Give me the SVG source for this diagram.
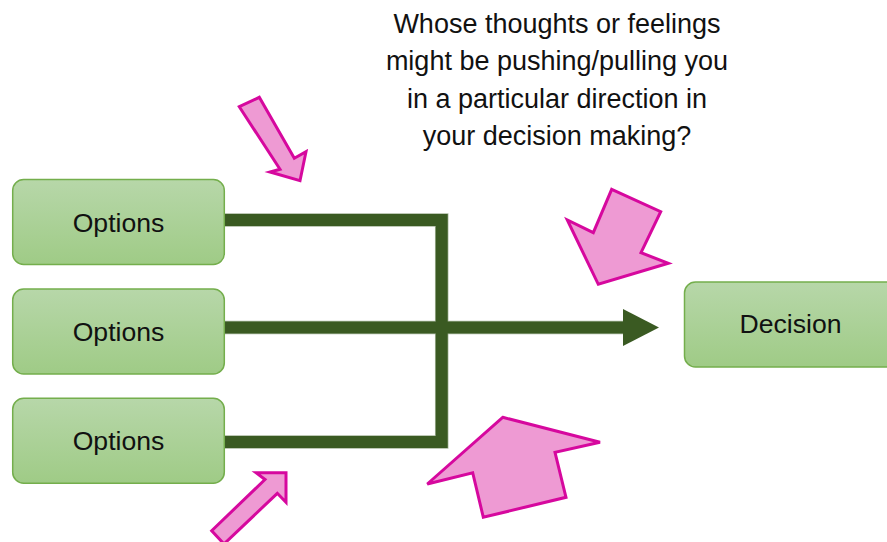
<svg xmlns="http://www.w3.org/2000/svg" width="887" height="542" viewBox="0 0 887 542">
<style>
.box{fill:url(#g);stroke:#74AE4C;stroke-width:1.5}
.lbl{font-family:"Liberation Sans",Arial,sans-serif;font-size:26.6px;fill:#111;text-anchor:middle}
.hdr{font-family:"Liberation Sans",Arial,sans-serif;font-size:27px;fill:#111;text-anchor:middle}
.ln{fill:none;stroke:#3A5A22;stroke-width:12;stroke-linejoin:miter;stroke-linecap:butt}
.lo{fill:none;stroke:#A9B89E;stroke-width:13.5;stroke-linejoin:miter;stroke-linecap:butt}
.pk{fill:#EE9AD3;stroke:#D6089E;stroke-width:3;stroke-linejoin:miter}
</style>
<defs>
<linearGradient id="g" x1="0" y1="0" x2="0" y2="1">
<stop offset="0" stop-color="#B7D7A9"/>
<stop offset="1" stop-color="#9FCB86"/>
</linearGradient>
</defs>
<rect width="887" height="542" fill="#fff"/>
<g id="connectors">
<path class="lo" d="M224,220 H441.7 V442 H224"/>
<path class="lo" d="M224,327.5 H624"/>
<path class="ln" d="M224,220 H441.7 V442 H224"/>
<path class="ln" d="M224,327.5 H624"/>
<polygon points="623,309 659,327.5 623,346" fill="#3A5A22"/>
</g>
<g id="opt1"><rect class="box" x="12.7" y="179.5" width="211.6" height="85" rx="11"/><text class="lbl" x="118.5" y="231.5">Options</text></g>
<g id="opt2"><rect class="box" x="12.7" y="289" width="211.6" height="85" rx="11"/><text class="lbl" x="118.5" y="340.5">Options</text></g>
<g id="opt3"><rect class="box" x="12.7" y="398.3" width="211.6" height="85" rx="11"/><text class="lbl" x="118.5" y="449.8">Options</text></g>
<g id="decision"><rect class="box" x="684.5" y="282" width="213" height="85" rx="11"/><text class="lbl" x="790.5" y="333.3">Decision</text></g>
<g id="question">
<text class="hdr" x="557" y="33">Whose thoughts or feelings</text>
<text class="hdr" x="557" y="70">might be pushing/pulling you</text>
<text class="hdr" x="557" y="107.5">in a particular direction in</text>
<text class="hdr" x="557" y="145">your decision making?</text>
</g>
<g id="arrow1"><polygon class="pk" points="239.3,106.7 280,169.3 270,172 300,180.7 306,151.7 294.3,158.3 259.3,97.3"/></g>
<g id="arrow2"><polygon class="pk" points="611.7,189.3 660.7,211.7 641,252.7 668.3,263.3 598.3,284.3 567.3,220 593.3,232.7"/></g>
<g id="arrow3"><polygon class="pk" points="502.7,417.3 600,442.3 555,452.3 566,497.3 483.3,517.3 472.7,472.7 427.3,484"/></g>
<g id="arrow4"><polygon class="pk" points="256,472.7 286,472.7 286,502.3 277.3,493.3 224,544 211.7,530.7 265,479.5"/></g>
</svg>
